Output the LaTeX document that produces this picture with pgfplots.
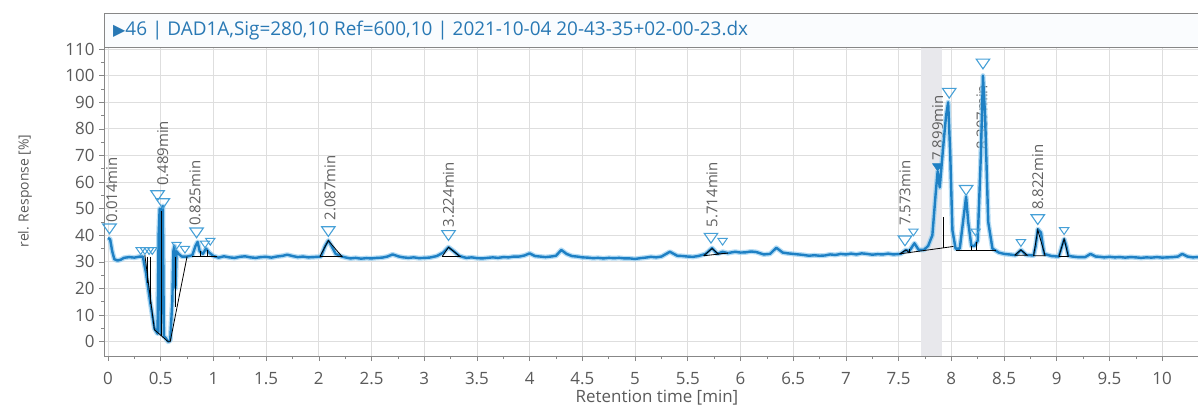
\documentclass[border=0pt]{standalone}
\usepackage{pgfplots}
\pgfplotsset{compat=1.18}
\usepackage{fontspec}
\setmainfont{Open Sans}
\newfontfamily\symfont{DejaVu Sans}
\definecolor{traceCore}{RGB}{30,128,196}
\definecolor{traceHalo}{RGB}{150,205,240}
\definecolor{titleBlue}{RGB}{40,120,180}
\definecolor{gridGray}{RGB}{222,222,222}
\definecolor{axGray}{RGB}{135,135,135}
\definecolor{tickGray}{RGB}{90,90,90}
\definecolor{labGray}{RGB}{95,95,95}
\definecolor{markBlue}{RGB}{70,160,215}
\definecolor{bandGray}{RGB}{232,232,236}
\definecolor{titleBg}{RGB}{250,252,254}

\pgfplotstableread{
x y
0.00 39
0.02 38.5
0.04 34
0.06 31
0.09 30.5
0.12 30.8
0.15 31.5
0.20 31.8
0.25 31.6
0.30 32
0.33 32
0.36 26
0.40 15
0.44 5
0.47 3
0.48 40
0.49 50
0.50 3
0.51 50
0.52 51
0.53 2
0.545 1.5
0.57 0
0.59 0.5
0.61 15
0.62 34
0.63 36
0.64 20
0.65 34
0.67 33
0.70 32
0.75 32
0.80 32.5
0.83 36
0.85 37.5
0.87 34
0.90 33
0.93 35
0.96 33.5
1.00 32.2
1.05 31.6
1.10 32.1
1.15 31.7
1.20 31.5
1.25 31.9
1.30 32.1
1.35 31.7
1.40 31.5
1.45 31.8
1.50 31.9
1.55 31.6
1.60 32
1.66 32.3
1.70 32.7
1.75 32.2
1.80 31.8
1.85 32
1.90 31.7
1.95 31.8
2.02 32
2.06 36
2.09 38
2.12 36
2.16 33
2.22 32
2.26 31.6
2.30 31.3
2.35 31.5
2.40 31.2
2.45 31.4
2.50 31.3
2.55 31.5
2.60 31.6
2.65 32
2.70 32.8
2.76 32
2.80 31.7
2.85 31.5
2.90 31.7
2.95 31.4
3.00 31.5
3.05 31.6
3.12 32.2
3.18 33.5
3.23 35.5
3.28 34
3.33 32.3
3.37 31.8
3.40 31.5
3.45 31.7
3.50 31.4
3.55 31.3
3.60 31.5
3.65 31.7
3.70 31.5
3.75 31.8
3.80 31.7
3.85 32
3.90 32
3.95 32.4
4.00 33.2
4.05 32.2
4.10 32
4.15 31.8
4.20 32
4.25 32.3
4.30 34.5
4.35 33
4.40 32.2
4.45 32
4.50 31.7
4.55 31.6
4.60 31.4
4.65 31.5
4.70 31.3
4.75 31.5
4.80 31.4
4.85 31.5
4.90 31.3
4.95 31.3
5.00 31.1
5.05 31.4
5.10 31.6
5.15 31.9
5.20 31.7
5.25 32
5.33 33.8
5.40 32.3
5.45 32.2
5.50 32
5.55 31.9
5.60 32.2
5.67 33
5.73 35.2
5.78 33
5.83 33.8
5.88 33.3
5.92 33.6
5.95 33.8
6.00 33.5
6.05 33.6
6.10 33.9
6.15 33.7
6.22 32.8
6.28 33
6.34 35.3
6.40 33.5
6.45 33.2
6.50 33
6.55 32.8
6.60 32.6
6.65 32.3
6.70 32.5
6.75 32.3
6.80 32.4
6.85 32.8
6.90 32.6
6.95 33
7.00 32.8
7.05 33.1
7.10 32.8
7.15 33.2
7.20 33
7.25 32.7
7.30 32.9
7.35 32.8
7.40 33.1
7.45 32.8
7.52 33
7.57 34.5
7.60 34
7.65 37
7.69 34.5
7.74 34.5
7.78 36
7.82 40
7.85 55
7.87 64
7.89 58
7.92 72
7.95 85
7.97 90
7.99 70
8.01 42
8.04 35
8.08 35
8.12 48
8.14 54.5
8.16 45
8.19 36
8.22 36
8.25 38
8.28 70
8.30 100
8.32 85
8.35 45
8.39 35
8.45 33.5
8.50 33
8.55 32.8
8.61 32.5
8.66 34.5
8.71 32.6
8.78 32.4
8.80 36
8.82 42.3
8.85 41
8.88 33
8.95 32.2
9.02 32
9.05 36
9.07 38.6
9.09 36
9.11 32.3
9.15 32
9.20 31.8
9.27 31.8
9.32 33
9.37 32
9.41 31.9
9.45 31.7
9.50 31.9
9.55 31.7
9.60 31.8
9.65 31.6
9.70 31.8
9.75 31.7
9.80 31.5
9.85 31.7
9.90 31.6
9.95 31.8
10.00 31.6
10.05 31.7
10.10 31.8
10.15 32
10.19 33
10.24 32
10.29 31.7
10.34 31.8
}\trace

\begin{document}
\begin{tikzpicture}
\useasboundingbox (0,0) rectangle (1198bp,405bp);
\begin{axis}[
  name=ax,
  at={(104bp,49bp)}, anchor=south west,
  scale only axis, width=1094bp, height=308bp,
  xmin=-0.038, xmax=10.34, ymin=-5.38, ymax=110.4,
  xtick={0,0.5,1,1.5,2,2.5,3,3.5,4,4.5,5,5.5,6,6.5,7,7.5,8,8.5,9,9.5,10},
  ytick={0,10,20,30,40,50,60,70,80,90,100,110},
  minor x tick num=1, minor y tick num=1,
  tick align=outside,
  major tick length=5bp, minor tick length=3bp,
  tick style={axGray, line width=0.6bp},
  grid=major,
  major grid style={gridGray, line width=0.8bp},
  axis x line*=bottom, axis y line*=left,
  axis line style={axGray, line width=1bp},
  /pgf/number format/assume math mode=true,
  ticklabel style={font=\fontsize{17}{20}\selectfont, text=tickGray},
  x tick label style={yshift=-8bp},
  y tick label style={xshift=-1bp},
  blk/.style={black, line width=0.8bp, mark=none, solid},
]
\addplot[draw=none, fill=bandGray, mark=none] coordinates {(7.71,-5.38) (7.91,-5.38) (7.91,110.4) (7.71,110.4)} -- cycle;

% peak labels (behind the trace)
\begin{scope}[every node/.style={rotate=90, anchor=west, font=\fontsize{15}{18}\selectfont, text=labGray, inner sep=0pt}]
\node at (axis cs:0.035,44.8) {0.014min};
\node at (axis cs:0.52,58.5) {0.489min};
\node at (axis cs:0.825,43.5) {0.825min};
\node at (axis cs:2.106,45.5) {2.087min};
\node at (axis cs:3.23,43) {3.224min};
\node at (axis cs:5.73,43) {5.714min};
\node at (axis cs:7.56,43.5) {7.573min};
\node at (axis cs:7.87,68) {7.899min};
\node at (axis cs:8.29,72) {8.307min};
\node at (axis cs:8.82,49.5) {8.822min};
\end{scope}

\addplot[traceHalo, line width=5bp, opacity=0.7, line join=round, mark=none] table {\trace};
\addplot[traceCore, line width=2.4bp, line join=round, mark=none] table {\trace};

% integration lines
\addplot[blk] coordinates {(0.35,32.5) (0.44,4.5) (0.57,0) (0.59,0) (0.75,32)};
\addplot[blk] coordinates {(0.37,32) (0.37,22)};
\addplot[blk] coordinates {(0.40,32) (0.40,14)};
\addplot[blk] coordinates {(0.51,2) (0.51,49)};
\addplot[blk] coordinates {(0.64,32) (0.64,13)};
\addplot[blk] coordinates {(0.80,32) (1.03,32)};
\addplot[blk] coordinates {(0.88,32) (0.88,34)};
\addplot[blk] coordinates {(0.94,32) (0.94,34.5)};
\addplot[blk] coordinates {(2.01,32) (2.09,38) (2.22,32) (2.01,32)};
\addplot[blk] coordinates {(3.17,32) (3.23,35.5) (3.34,32) (3.17,32)};
\addplot[blk] coordinates {(5.65,32.3) (5.73,35) (5.79,33) (5.88,33.3) (5.65,32.3)};
\addplot[blk] coordinates {(7.51,33) (7.57,34.5) (7.60,33.5)};
\addplot[blk] coordinates {(7.51,33) (8.02,35.8)};
\addplot[blk] coordinates {(7.60,33.3) (7.60,35)};
\addplot[blk] coordinates {(7.92,35.2) (7.92,47)};
\addplot[blk] coordinates {(8.04,34.5) (8.42,34.5)};
\addplot[blk] coordinates {(8.19,34.5) (8.19,36)};
\addplot[blk] coordinates {(8.24,34.5) (8.24,37.6)};
\addplot[blk] coordinates {(8.60,32.5) (8.66,34.5) (8.72,32.5) (8.60,32.5)};
\addplot[blk] coordinates {(8.78,32.3) (8.82,42) (8.89,32.3) (8.78,32.3)};
\addplot[blk] coordinates {(9.02,32) (9.07,38.6) (9.11,32) (9.02,32)};

% peak markers
\addplot[only marks, mark=triangle, mark size=6.5bp,
  mark options={rotate=180, xscale=1.2, draw=markBlue, fill=white, line width=1.1bp}]
  coordinates {(0.014,43) (0.47,55.5) (0.52,52.5) (0.84,41.5) (2.09,42) (3.23,40.5)
  (5.72,39.5) (7.56,38.5) (7.98,94) (8.30,105) (8.82,46.5) (8.14,57.5)};
\addplot[only marks, mark=triangle, mark size=4.5bp,
  mark options={rotate=180, xscale=1.2, draw=markBlue, fill=white, line width=1bp}]
  coordinates {(0.31,34.5) (0.35,34.5) (0.39,34.5) (0.42,34.5) (0.65,36.5) (0.73,35)
  (0.92,37) (0.97,38) (5.83,38) (7.64,41.5) (8.23,41.5) (8.66,37.5) (9.07,42)};
\addplot[only marks, mark=triangle*, mark size=5bp,
  mark options={rotate=180, xscale=1.2, draw=traceCore, fill=traceCore}]
  coordinates {(7.87,66)};
\end{axis}
% title bar
\draw[axGray, line width=1bp, fill=titleBg] (ax.north west) rectangle ([yshift=34bp]ax.north east);
\node[anchor=west, text=titleBlue, font=\fontsize{19}{22}\selectfont, inner sep=0pt]
  at ([xshift=9bp, yshift=17bp]ax.north west) {{\symfont\fontsize{16}{19}\selectfont ▶}46 | DAD1A,Sig=280,10 Ref=600,10 | 2021-10-04 20-43-35+02-00-23.dx};
% axis labels
\node[rotate=90, anchor=center, text=tickGray, font=\fontsize{14}{17}\selectfont] at (25bp,214bp) {rel. Response [\%]};
\node[anchor=base, text=tickGray, font=\fontsize{17}{20}\selectfont] at (657bp,3bp) {Retention time [min]};
\end{tikzpicture}
\end{document}
